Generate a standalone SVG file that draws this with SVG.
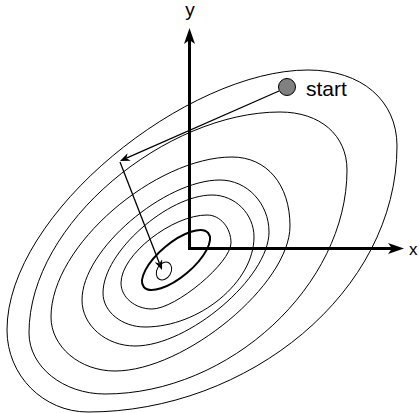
<svg xmlns="http://www.w3.org/2000/svg" width="419" height="413" viewBox="0 0 419 413">
<style>
.contour{fill:none;stroke:#000;stroke-width:1}
.bold{fill:none;stroke:#000;stroke-width:2}
.axis{fill:none;stroke:#000;stroke-width:3;stroke-linecap:square}
.step{fill:none;stroke:#000;stroke-width:1.3}
.lbl{font-family:"Liberation Sans",Arial,Helvetica,sans-serif;fill:#000}
</style>
<defs>
<marker id="ah" viewBox="0 0 10 8" refX="3" refY="4" markerWidth="10" markerHeight="8" markerUnits="userSpaceOnUse" orient="auto"><path d="M10,4 L0,0 L3,4 L0,8 Z" fill="#000"/></marker>
<marker id="axh" viewBox="0 0 16 11" refX="4" refY="5.5" markerWidth="16" markerHeight="11" markerUnits="userSpaceOnUse" orient="auto"><path d="M16,5.5 L0,0 L4,5.5 L0,11 Z" fill="#000"/></marker>
</defs>
<rect width="419" height="413" fill="#fff"/>
<g id="contours">
<path id="c1" class="contour" d="M7,330 C7,213 187.6,70 308,70 C361.4,70 397,100.4 397,146 C397,292 248,412 88,412 C43.6,412 7,375.7 7,330 Z"/>
<path id="c2" class="contour" d="M29,333 C29,222.5 167,112 280,112 C320.2,112 347,135.2 347,170 C347,285 230,394 105,394 C63.2,394 29,366.6 29,333 Z"/>
<path id="c3" class="contour" d="M51,317 C51,245 156,157 232,157 C266.8,157 290,184.6 290,226 C290,284 185,371 115,371 C79.8,371 51,346.7 51,317 Z"/>
<path id="c4" class="contour" d="M82,300 C82,249.6 164.8,180 220,180 C247,180 269,203.4 269,232 C269,277.6 188.6,346 135,346 C105.9,346 82,325.3 82,300 Z"/>
<path id="c5" class="contour" d="M103,293 C103,251.8 168.4,195 212,195 C235.1,195 254,213.9 254,237 C254,282 199.5,327 145,327 C121.9,327 103,311.7 103,293 Z"/>
<path id="c6" class="contour" d="M121,283 C121,254.4 172.6,215 207,215 C220.2,215 231,227.6 231,243 C231,262.8 175.7,309 152,309 C135,309 121,297.3 121,283 Z"/>
<ellipse id="c7" class="bold" cx="176" cy="260" rx="42" ry="17" transform="rotate(-40 176 260)"/>
<ellipse id="minimum" class="contour" cx="164" cy="271" rx="9.5" ry="7" transform="rotate(-60 164 271)"/>
</g>
<g id="connectors">
<path id="x-axis" class="axis" d="M189.5,248.5 H392" marker-end="url(#axh)"/>
<path id="y-axis" class="axis" d="M189.5,248.5 V40" marker-end="url(#axh)"/>
<path id="step1" class="step" d="M279,91 L126.4,158.2" marker-end="url(#ah)"/>
<path id="step2" class="step" d="M120,162 L159.5,263.5" marker-end="url(#ah)"/>
</g>
<g id="start">
<circle cx="287" cy="87" r="8.5" fill="#808080" stroke="#000" stroke-width="1"/>
<text class="lbl" x="306" y="96" font-size="21">start</text>
</g>
<g id="label-y"><text class="lbl" x="190" y="15.5" font-size="19" text-anchor="middle">y</text></g>
<g id="label-x"><text class="lbl" x="409" y="255" font-size="17">x</text></g>
</svg>
